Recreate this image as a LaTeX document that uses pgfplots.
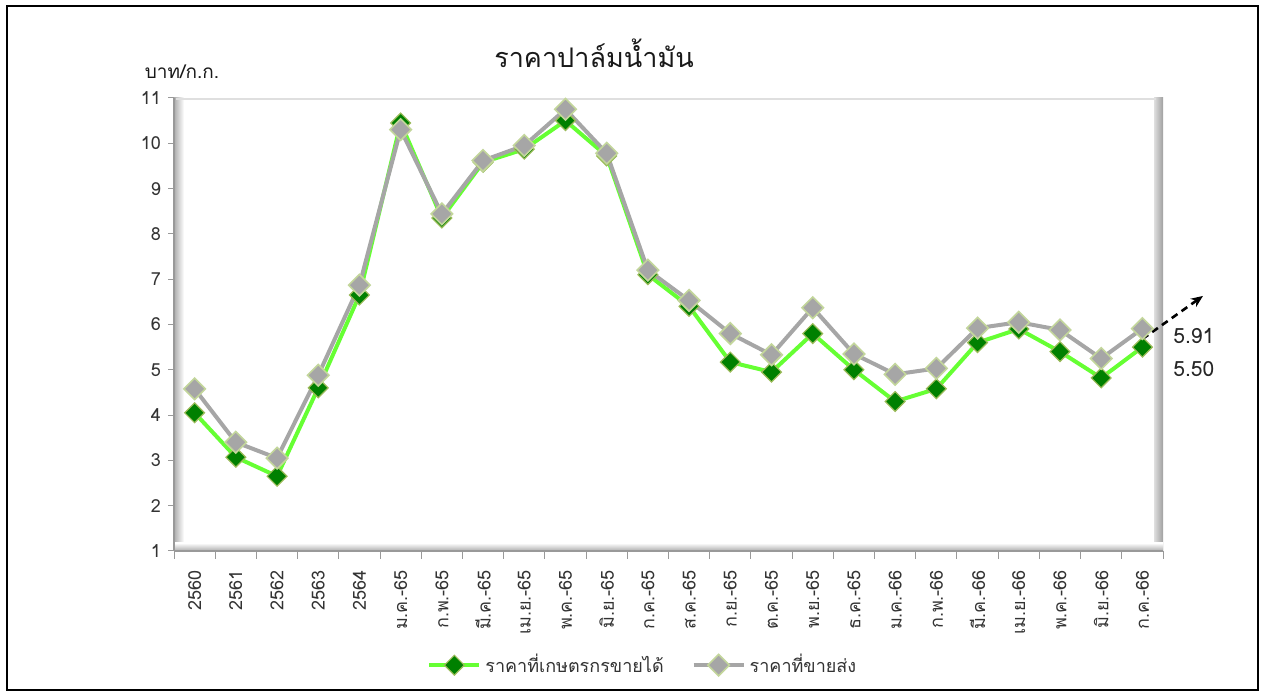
\documentclass[border=0pt]{standalone}
\usepackage{fontspec}
\setmainfont[Script=Thai]{Loma}
\usepackage{pgfplots}
\pgfplotsset{compat=1.18}
\usetikzlibrary{arrows.meta}
\definecolor{grn}{HTML}{66FF33}
\definecolor{dgrn}{HTML}{008000}
\definecolor{gline}{HTML}{A6A6A6}
\definecolor{mborder}{HTML}{C3D69B}
\definecolor{gborder}{HTML}{9BBB59}
\begin{document}
\begin{tikzpicture}[x=1pt,y=1pt]
\useasboundingbox (0,0) rectangle (631.5,347.5);
\draw[line width=1.1pt] (3.5,2.5) rectangle (629,344.5);
% 3D-like walls
\shade[left color=gray!65, right color=white] (87,72) rectangle (92,298.5);
\shade[left color=gray!25, right color=gray!75] (577,72) rectangle (581.5,298.5);
\shade[bottom color=gray!65, top color=white] (87,72) rectangle (581.5,76);
\draw[gray!25, line width=0.8pt] (88,298) -- (578,298);
\node[font=\fontsize{13.5}{15}\selectfont, text=black!90] at (297,321) {ราคาปาล์มน้ำมัน};
\node[font=\fontsize{9.5}{12}\selectfont, text=black!90] at (91,311.5) {บาท/ก.ก.};
\begin{axis}[
  at={(87pt,72pt)}, anchor=south west,
  scale only axis, width=494.5pt, height=226.5pt,
  xmin=-0.5, xmax=23.5, ymin=1, ymax=11,
  clip=false,
  axis lines*=left,
  axis line style={gray!80, line width=0.6pt},
  tick align=outside,
  major tick length=3pt,
  minor tick length=4pt,
  ytick={1,...,11},
  xtick={0,...,23},
  minor xtick={-0.5,0.5,...,23.5},
  major x tick style={draw=none},
  minor x tick style={gray!80, line width=0.5pt},
  major y tick style={gray!80, line width=0.5pt},
  xticklabels={2560,2561,2562,2563,2564,ม.ค.-65,ก.พ.-65,มี.ค.-65,เม.ย.-65,พ.ค.-65,มิ.ย.-65,ก.ค.-65,ส.ค.-65,ก.ย.-65,ต.ค.-65,พ.ย.-65,ธ.ค.-65,ม.ค.-66,ก.พ.-66,มี.ค.-66,เม.ย.-66,พ.ค.-66,มิ.ย.-66,ก.ค.-66},
  x tick label style={yshift=-3pt, rotate=90, anchor=east, font=\fontsize{9}{10}\selectfont, text=black!80},
  y tick label style={font=\fontsize{9}{10}\selectfont, text=black!80},
  /pgf/number format/assume math mode=true,
  legend image code/.code={\draw[mark repeat=2,mark phase=2] plot coordinates {(0pt,0pt) (12.5pt,0pt) (25pt,0pt)};},
  legend style={at={(0.475,-0.252)}, anchor=center, draw=none, legend columns=2,
    font=\fontsize{9}{11}\selectfont, text=black!80,
    /tikz/every even column/.append style={column sep=12pt}},
]
\addplot[grn, line width=2pt, mark=square*, mark size=3.5pt,
  mark options={rotate=45, fill=dgrn, draw=gborder, line width=0.6pt}] coordinates {
(0,4.05) (1,3.07) (2,2.65) (3,4.6) (4,6.65) (5,10.45) (6,8.35) (7,9.58) (8,9.87) (9,10.5) (10,9.72) (11,7.1) (12,6.4) (13,5.17) (14,4.95) (15,5.8) (16,5.0) (17,4.3) (18,4.58) (19,5.6) (20,5.9) (21,5.4) (22,4.82) (23,5.50)};
\addlegendentry{ราคาที่เกษตรกรขายได้}
\addplot[gline, line width=2pt, mark=square*, mark size=3.8pt,
  mark options={rotate=45, fill=gline, draw=mborder, line width=0.8pt}] coordinates {
(0,4.58) (1,3.4) (2,3.05) (3,4.88) (4,6.87) (5,10.3) (6,8.44) (7,9.62) (8,9.95) (9,10.75) (10,9.78) (11,7.2) (12,6.53) (13,5.8) (14,5.33) (15,6.37) (16,5.35) (17,4.9) (18,5.03) (19,5.92) (20,6.05) (21,5.88) (22,5.25) (23,5.91)};
\addlegendentry{ราคาที่ขายส่ง}
\draw[dash pattern=on 3.5pt off 2.5pt, line width=1.3pt, -{Stealth[length=6pt,width=5pt]}] (axis cs:23,5.68) -- (axis cs:24.47,6.63);
\node[anchor=west, font=\fontsize{10.5}{12}\selectfont, text=black!85] at (axis cs:23.58,5.75) {5.91};
\node[anchor=west, font=\fontsize{10.5}{12}\selectfont, text=black!85] at (axis cs:23.58,5.02) {5.50};
\end{axis}
\end{tikzpicture}
\end{document}
